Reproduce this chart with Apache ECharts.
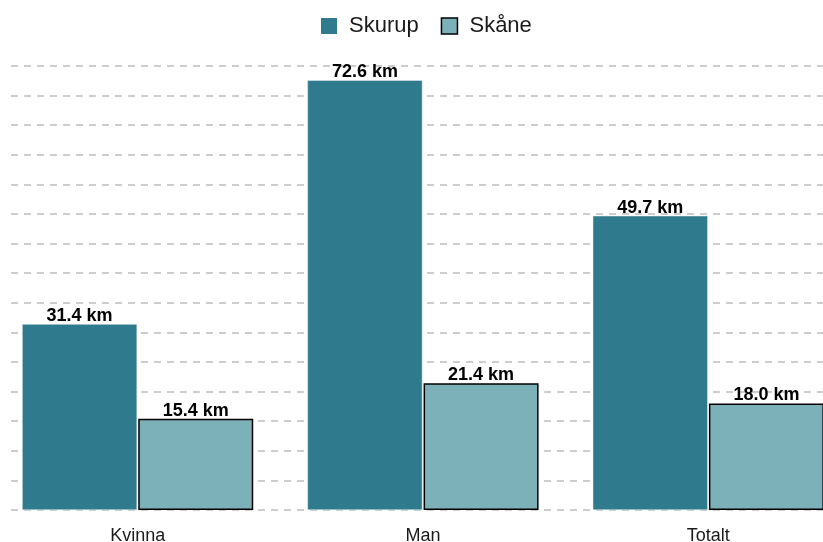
<!DOCTYPE html>
<html>
<head>
<meta charset="utf-8">
<script src="https://cdn.jsdelivr.net/npm/echarts@6/dist/echarts.min.js"></script>
<style>
  html, body { margin: 0; padding: 0; background: #fff; }
  #chart { width: 823px; height: 542px; }
</style>
</head>
<body>
<div id="chart"></div>
<script>
var categories = ['Kvinna', 'Man', 'Totalt'];
var skurup = [31.4, 72.6, 49.7];
var skane = [15.4, 21.4, 18.0];

var chart = echarts.init(document.getElementById('chart'));

var label = {
  show: true,
  position: 'top',
  distance: -1,
  fontFamily: 'Liberation Sans, Arial, sans-serif',
  fontSize: 18,
  fontWeight: 'bold',
  color: '#000',
  formatter: function(p) {
    return p.value.toFixed(1) + ' km';
  }
};

chart.setOption({
  animation: false,
  legend: {
    top: 10,
    left: 316,
    icon: 'rect',
    itemWidth: 16,
    itemHeight: 16,
    itemGap: 22,
    textStyle: {
      fontFamily: 'Liberation Sans, Arial, sans-serif',
      fontSize: 22,
      color: '#1a1a1a',
      padding: [0, 0, 0, 7]
    },
    data: [
      { name: 'Skurup', itemStyle: { borderWidth: 0 } },
      { name: 'Skåne', itemStyle: { borderColor: '#000', borderWidth: 1.5 } }
    ]
  },
  grid: [
    { left: -5, width: 856, top: 66, bottom: 32, outerBoundsMode: 'none' },
    { left: 11, right: 0, top: 66, bottom: 32, outerBoundsMode: 'none' }
  ],
  xAxis: [
    {
      type: 'category',
      gridIndex: 0,
      data: categories,
      axisLine: { show: false },
      axisTick: { show: false },
      axisLabel: {
        margin: 17,
        fontFamily: 'Liberation Sans, Arial, sans-serif',
        fontSize: 18,
        color: '#1a1a1a'
      }
    },
    { type: 'value', gridIndex: 1, show: false }
  ],
  yAxis: [
    {
      type: 'value',
      gridIndex: 0,
      min: 0,
      max: 75,
      interval: 5,
      show: false,
      splitLine: { show: false }
    },
    {
      type: 'value',
      gridIndex: 1,
      min: 0,
      max: 75,
      interval: 5,
      axisLine: { show: false },
      axisTick: { show: false },
      axisLabel: { show: false },
      splitLine: {
        show: true,
        lineStyle: { color: '#bdbdbd', width: 1.5, type: [7, 6] }
      }
    }
  ],
  series: [
    {
      name: 'Skurup',
      type: 'bar',
      xAxisIndex: 0,
      yAxisIndex: 0,
      data: skurup,
      barWidth: 115,
      barGap: '1%',
      itemStyle: { color: '#2f7a8c', borderColor: '#e6eef0', borderWidth: 0.5 },
      label: label
    },
    {
      name: 'Skåne',
      type: 'bar',
      xAxisIndex: 0,
      yAxisIndex: 0,
      data: skane,
      barWidth: 115,
      itemStyle: { color: '#7db1b9', borderColor: '#000', borderWidth: 1.5 },
      label: label
    }
  ]
});
</script>
</body>
</html>
